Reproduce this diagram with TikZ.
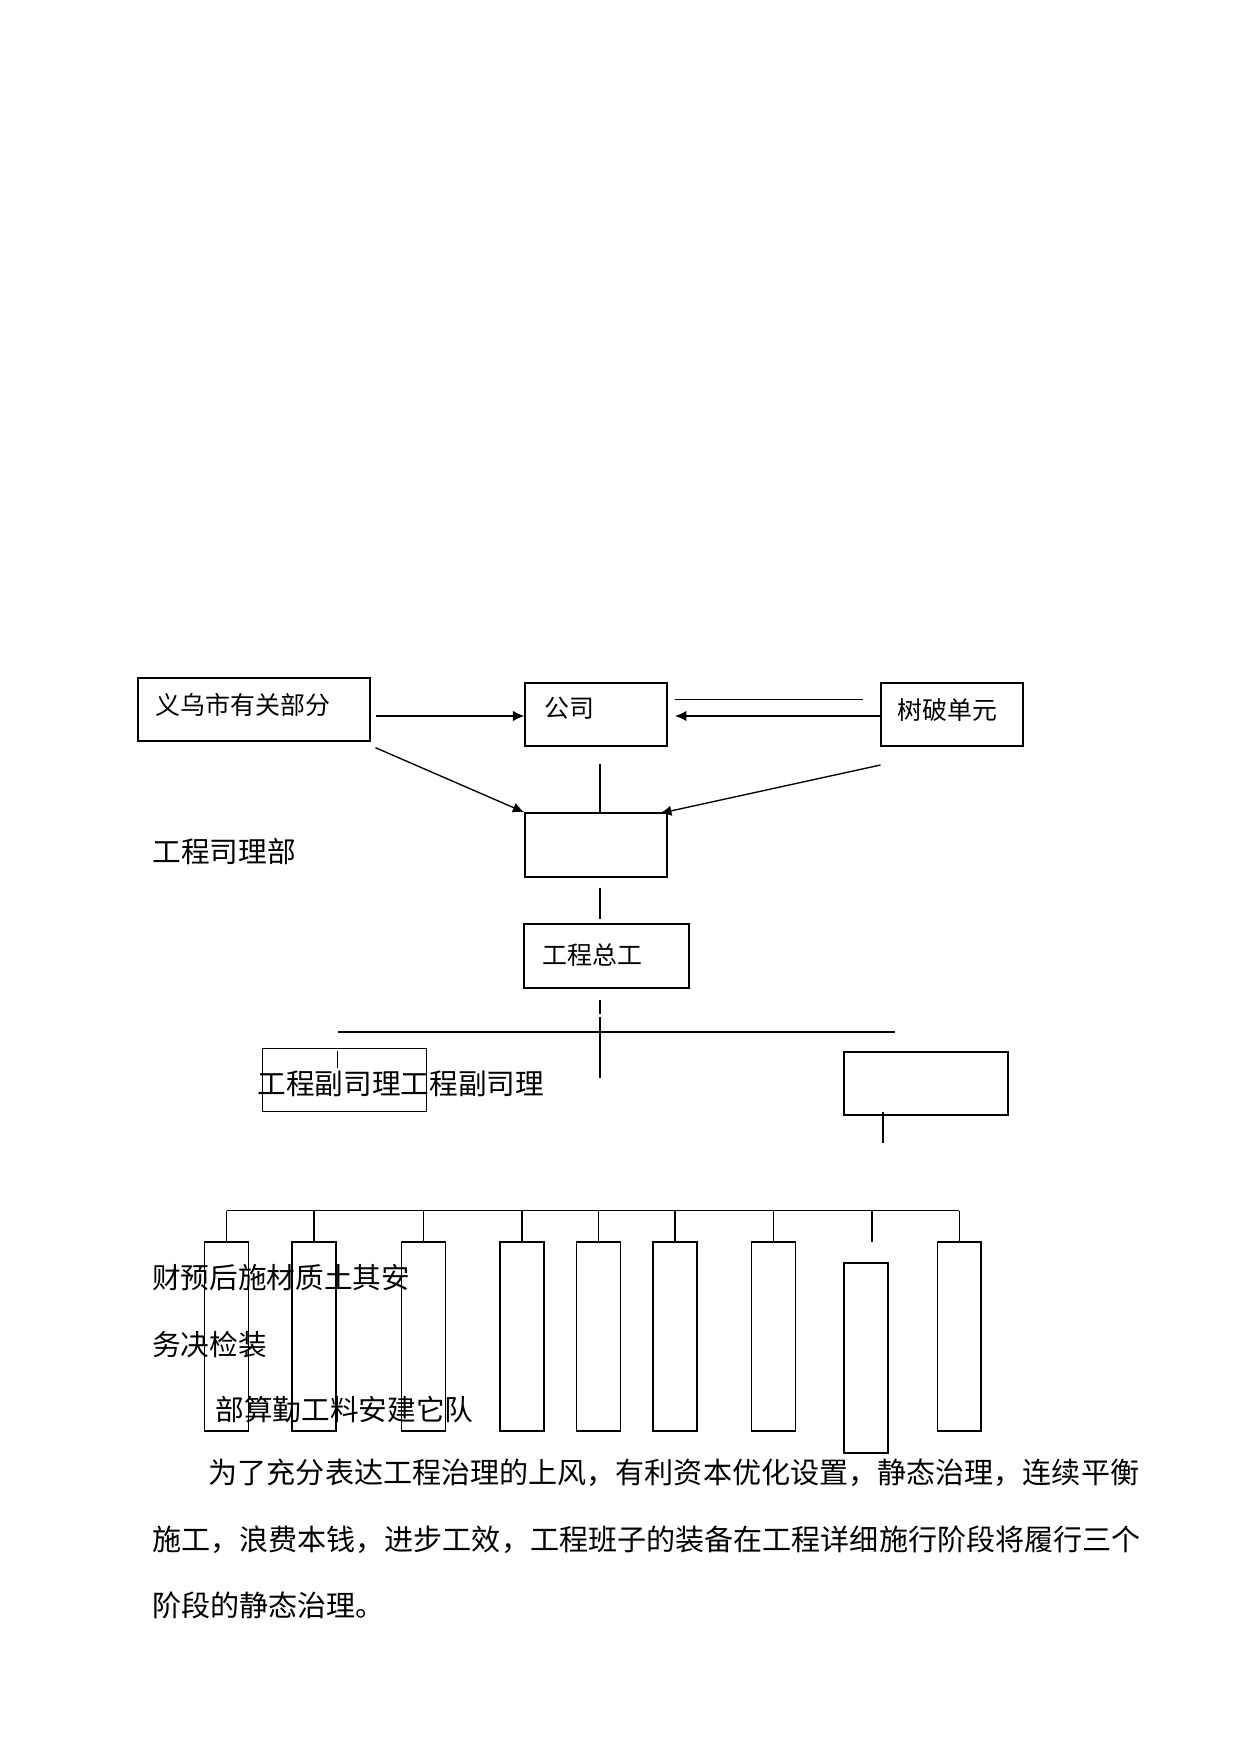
\documentclass[tikz,border=0pt]{standalone}
\usepackage{fontspec}
\setmainfont{Noto Sans CJK SC}
\usetikzlibrary{arrows.meta}
\newdimen\pxu
\pxu=0.016922cm
\begin{document}
\begin{tikzpicture}[x=0.016922cm,y=-0.016922cm,
  box/.style={draw,inner sep=0pt,line width=0.6pt},
  thinbox/.style={draw,inner sep=0pt,line width=0.45pt},
  thickbox/.style={draw,inner sep=0pt,line width=0.95pt},
  col/.style={inner sep=0pt,minimum width=43.6\pxu,minimum height=189\pxu},
  lab/.style={anchor=west,inner sep=0pt,font=\fontsize{12pt}{14pt}\selectfont},
  biglab/.style={anchor=west,inner sep=0pt,font=\fontsize{13.8pt}{16pt}\selectfont},
  body/.style={anchor=west,inner sep=0pt,font=\fontsize{14pt}{16pt}\selectfont},
  arr/.style={line width=0.65pt,-{Latex[length=5.5pt,width=5pt]}},
  ln/.style={line width=0.65pt},
  thinln/.style={line width=0.4pt},
  thickln/.style={line width=0.95pt}]
\useasboundingbox (0,0) rectangle (1241,1755);
% boxes
\node[box,line width=0.8pt,minimum width=232\pxu,minimum height=63\pxu] (yiwu) at (254,709.5) {};
\node[box,minimum width=142\pxu,minimum height=63\pxu] (gongsi) at (596,714.5) {};
\node[box,minimum width=142\pxu,minimum height=63\pxu] (shupo) at (952,714.5) {};
\node[box,line width=0.7pt,minimum width=142\pxu,minimum height=64\pxu] (xmb) at (596,845) {};
\node[box,line width=0.7pt,minimum width=165\pxu,minimum height=64\pxu] (zg) at (606.5,956) {};
\node[thinbox,minimum width=164\pxu,minimum height=63\pxu] (fu1) at (344,1079.5) {};
\node[box,line width=0.8pt,minimum width=164\pxu,minimum height=63\pxu] (rbox) at (926,1083.5) {};
% box texts
\node[lab] (tyiwu) at (155.5,705) {义乌市有关部分};
\node[lab] (tgongsi) at (544,708) {公司};
\node[lab] (tshupo) at (897,710) {树破单元};
\node[lab] (tzg) at (542,955) {工程总工};
\node[biglab] (txmb) at (152,852) {工程司理部};
\node[biglab] (tfu) at (257,1084) {工程副司理工程副司理};
% top connectors
\coordinate (a1) at (375.5,716);
\draw[arr] (a1) -- (a1 -| gongsi.west);
\coordinate (a2) at (881,716);
\coordinate (a2e) at (675,716);
\draw[arr] (a2) -- (a2e);
\coordinate (t1) at (675,699.3);
\coordinate (t2) at (863,699.3);
\draw[thinln] (t1) -- (t2);
\coordinate (d1) at (375.5,747.7);
\draw[arr] (d1) -- (xmb.north west);
\coordinate (d2) at (880.5,765);
\coordinate (d2e) at (660,813.3);
\draw[arr] (d2) -- (d2e);
\coordinate (v1) at (600,764);
\draw[ln] (v1) -- (v1 |- xmb.north);
\coordinate (v2a) at (600,888);
\coordinate (v2b) at (600,919);
\draw[ln] (v2a) -- (v2b);
\coordinate (v3a) at (600,1000);
\coordinate (v3b) at (600,1014);
\coordinate (v3c) at (600,1016.7);
\coordinate (v3d) at (600,1078.3);
\draw[ln] (v3a) -- (v3b);
\draw[ln] (v3c) -- (v3d);
\coordinate (h1) at (338.4,1031.7);
\coordinate (h2) at (895,1031.7);
\draw[line width=0.85pt] (h1) -- (h2);
\coordinate (k1) at (337.6,1051);
\coordinate (k2) at (337.6,1068);
\draw[thinln] (k1) -- (k2);
\coordinate (r1) at (883,1112);
\coordinate (r2) at (883,1143);
\draw[thickln] (r1) -- (r2);
% columns
\node[col,draw,line width=0.65pt] (c1) at (226.5,1336.5) {};
\node[col,draw,line width=1pt] (c2) at (313.85,1336.5) {};
\node[col,draw,line width=0.65pt] (c3) at (423.5,1336.5) {};
\node[col,draw,line width=1pt] (c4) at (522,1336.5) {};
\node[col,draw,line width=0.6pt] (c5) at (598.5,1336.5) {};
\node[col,draw,line width=1pt] (c6) at (674.85,1336.5) {};
\node[col,draw,line width=0.6pt] (c7) at (773.5,1336.5) {};
\node[col,draw,line width=0.95pt,minimum height=190\pxu] (c8) at (865.85,1358) {};
\node[col,draw,line width=0.85pt] (c9) at (959.35,1336.5) {};
\coordinate (bl) at (226.5,1210.7);
\coordinate (br) at (959.35,1210.7);
\draw[line width=0.5pt] (bl) -- (br);
\draw[line width=0.5pt] (bl) -- (c1.north);
\coordinate (b2) at (313.85,1210.7);
\coordinate (b3) at (423.5,1210.7);
\coordinate (b4) at (522,1210.7);
\coordinate (b5) at (598.5,1210.7);
\coordinate (b6) at (674.85,1210.7);
\coordinate (b7) at (773.5,1210.7);
\draw[thickln] (b2) -- (c2.north);
\draw[line width=0.5pt] (b3) -- (c3.north);
\draw[thickln] (b4) -- (c4.north);
\draw[line width=0.5pt] (b5) -- (c5.north);
\draw[thickln] (b6) -- (c6.north);
\draw[line width=0.5pt] (b7) -- (c7.north);
\coordinate (b8) at (872,1210.7);
\coordinate (b8e) at (872,1241.7);
\draw[thickln] (b8) -- (b8e);
\draw[line width=0.5pt] (br) -- (c9.north);
% column texts
\node[biglab] (r1t) at (151.7,1278) {财预后施材质土其安};
\node[biglab] (r2t) at (151.7,1345) {务决检装};
\node[biglab] (r3t) at (215,1410) {部算勤工料安建它队};
% body text
\node[body] (p1) at (208.3,1473) {为了充分表达工程治理的上风，有利资本优化设置，静态治理，连续平衡};
\node[body] (p2) at (151.7,1540) {施工，浪费本钱，进步工效，工程班子的装备在工程详细施行阶段将履行三个};
\node[body] (p3) at (151.7,1605) {阶段的静态治理。};
\end{tikzpicture}
\end{document}
